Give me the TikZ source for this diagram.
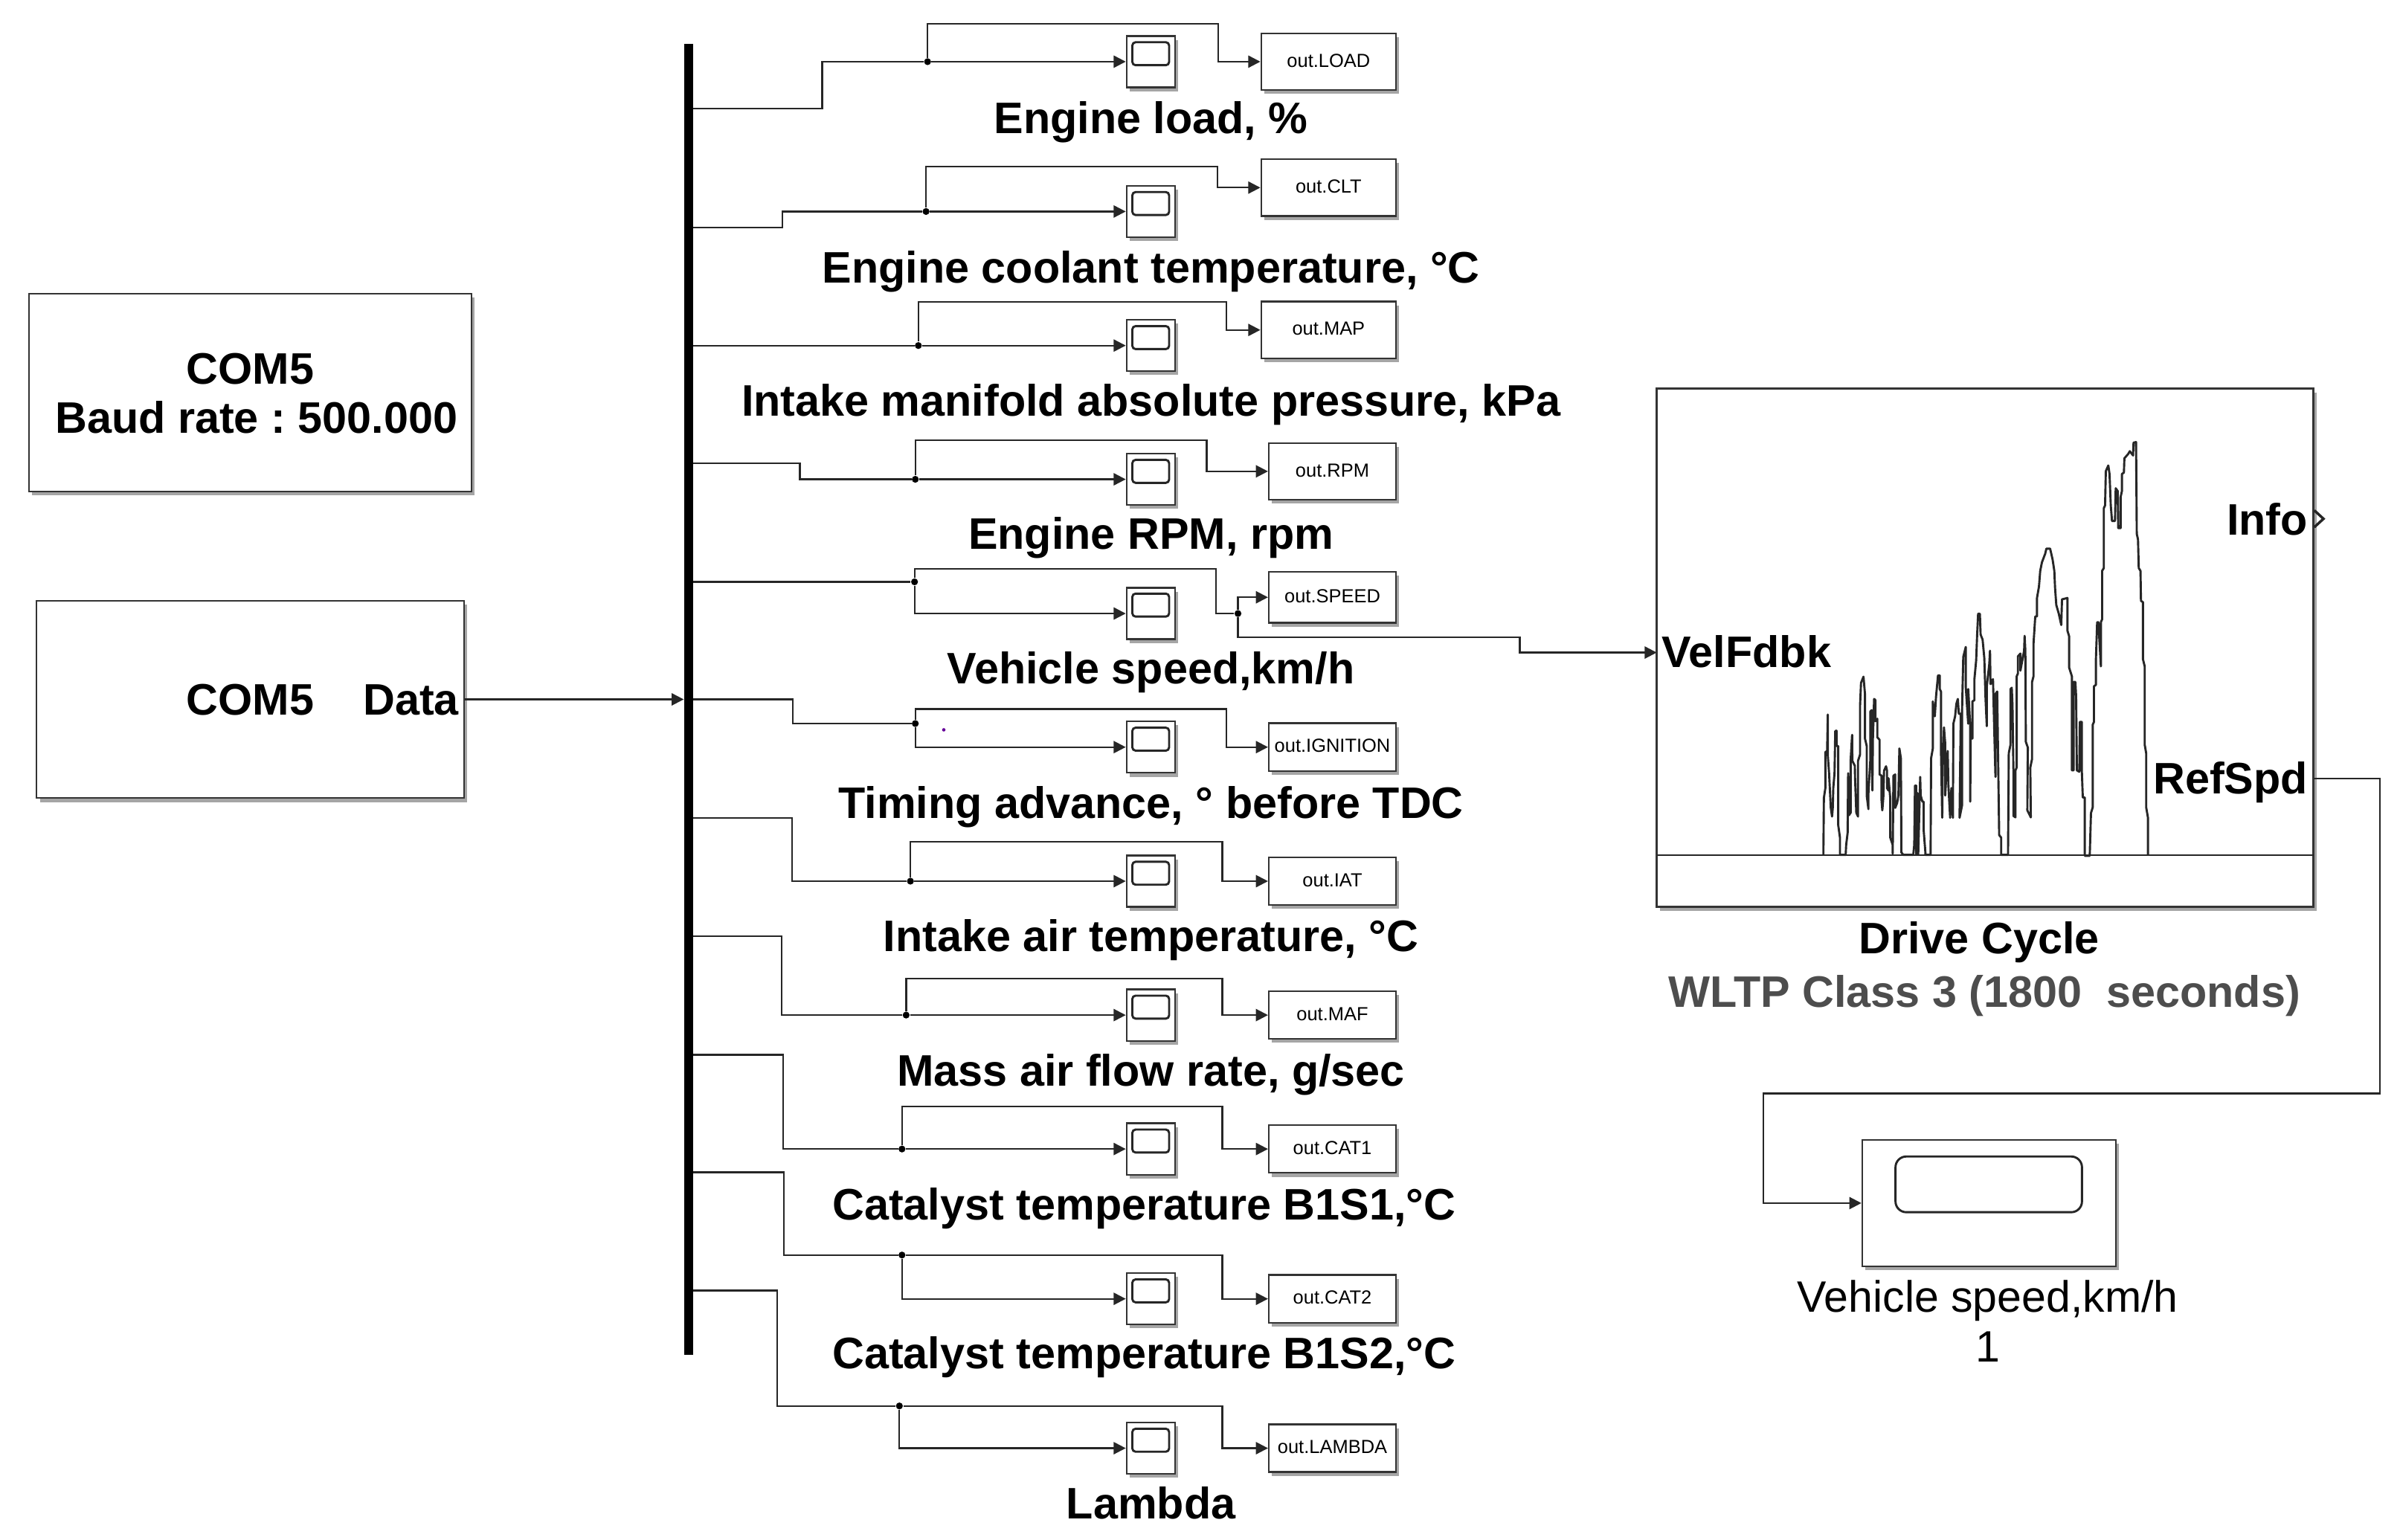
\documentclass[tikz,border=0pt]{standalone}
\usepackage{xcolor}
\usepackage{fontspec}
\setmainfont{Liberation Sans}
\usepackage{tikz}
\usetikzlibrary{arrows.meta,shadows}
\definecolor{lblgray}{HTML}{4D4D4D}
\frenchspacing
\tikzset{
    wire/.style={draw=black!85,line width=.8pt},
    sig/.style={wire,-{Triangle[length=5.6pt,width=5.6pt]}},
    blk/.style={draw=black!80,fill=white,line width=.8pt,inner sep=0pt,drop shadow={shadow xshift=1.5pt,shadow yshift=-1.8pt,opacity=.5,fill=black!70}},
    scp/.style={blk,minimum width=.7875cm,minimum height=.84cm},
    screen/.style={draw=black!85,line width=1pt,rounded corners=1.5pt,inner sep=0pt,minimum width=.6cm,minimum height=.375cm},
    outbox/.style={blk,minimum width=2.075cm,minimum height=.78cm,font=\fontsize{8.8}{10}\selectfont,text height=6.4pt,text depth=1.4pt},
    junct/.style={circle,fill=black,inner sep=0pt,minimum size=.1125cm},
    lbl/.style={font=\fontsize{20.5}{24}\bfseries\selectfont,anchor=base,inner sep=0pt},
    plain/.style={font=\fontsize{20.4}{24}\selectfont,anchor=base,inner sep=0pt},
    trace/.style={draw=black!85,line width=1pt,line join=round}
}
\begin{document}
\begin{tikzpicture}[x=0.025cm,y=-0.025cm]
    \useasboundingbox (0,0) rectangle (1568,1006.3);

    \node[blk,minimum width=7.225cm,minimum height=3.225cm] (baud) at (163.5,256.5) {};
    \node[lbl] (baud1) at (163.5,251) {COM5};
    \node[lbl] (baud2) at (167.5,283) {Baud rate : 500.000};
    \node[blk,minimum width=6.975cm,minimum height=3.225cm] (com) at (163.5,457) {};
    \node[lbl] (com1) at (163.5,467) {COM5};
    \node[lbl] (com2) at (268.5,467) {Data};
    \node[fill=black,inner sep=0pt,minimum width=.15cm,minimum height=21.4cm] (bus) at (450,457) {};
    \draw[sig] (com.east) -- (bus.west);

    \node[scp] (s1) at (751.8,40.3) {};
    \node[screen] (sc1) at (751.8,35.1) {};
    \node[outbox,minimum width=2.2cm,minimum height=.925cm] (o1) at (868,40.3) {out.LOAD};
    \node[lbl] (l1) at (752,87) {Engine load, \%};
    \node[junct] (j1) at (606,40.3) {};
    \coordinate (t1) at (453,71);
    \draw[wire] (t1) -- (537.2,71) |- (j1);
    \draw[sig] (j1) -- (s1.west);
    \draw[sig] (j1) |- (796,15.6) |- (o1.west);

    \node[scp] (s2) at (751.8,138.2) {};
    \node[screen] (sc2) at (751.8,133) {};
    \node[outbox,minimum width=2.2cm,minimum height=.925cm] (o2) at (868,122.6) {out.CLT};
    \node[lbl] (l2) at (752,185) {Engine coolant temperature, °C};
    \node[junct] (j2) at (605,138.2) {};
    \coordinate (t2) at (453,148.8);
    \draw[wire] (t2) -- (511,148.8) |- (j2);
    \draw[sig] (j2) -- (s2.west);
    \draw[sig] (j2) |- (795.3,109) |- (o2.west);

    \node[scp] (s3) at (751.8,225.8) {};
    \node[screen] (sc3) at (751.8,220.6) {};
    \node[outbox,minimum width=2.2cm,minimum height=.925cm] (o3) at (868,215.6) {out.MAP};
    \node[lbl] (l3) at (752,272) {Intake manifold absolute pressure, kPa};
    \node[junct] (j3) at (600,225.8) {};
    \coordinate (t3) at (453,225.8);
    \draw[wire] (t3) -- (j3);
    \draw[sig] (j3) -- (s3.west);
    \draw[sig] (j3) |- (801.4,197.4) |- (o3.west);

    \node[scp] (s4) at (751.8,313.2) {};
    \node[screen] (sc4) at (751.8,308) {};
    \node[outbox,minimum height=.925cm] (o4) at (870.5,308) {out.RPM};
    \node[lbl] (l4) at (752,359) {Engine RPM, rpm};
    \node[junct] (j4) at (598,313.2) {};
    \coordinate (t4) at (453,302.8);
    \draw[wire] (t4) -- (522.6,302.8) |- (j4);
    \draw[sig] (j4) -- (s4.west);
    \draw[sig] (j4) |- (788.4,287.6) |- (o4.west);

    \node[scp] (s5) at (751.8,400.9) {};
    \node[screen] (sc5) at (751.8,395.4) {};
    \node[outbox,minimum height=.83cm] (o5) at (870.5,390.3) {out.SPEED};
    \node[lbl] (l5) at (752,447) {Vehicle speed,km/h};
    \node[junct] (j5) at (597.5,380.2) {};
    \node[junct] (k5) at (808.8,400.9) {};
    \coordinate (t5) at (453,380.2);
    \draw[wire] (t5) -- (j5);
    \draw[sig] (j5) |- (s5.west);
    \draw[wire] (j5) |- (794.5,371.7) |- (k5);
    \draw[sig] (k5) |- (o5.west);

    \node[scp] (s6) at (751.8,488.2) {};
    \node[screen] (sc6) at (751.8,483) {};
    \node[outbox] (o6) at (870.5,488.2) {out.IGNITION};
    \node[lbl] (l6) at (752,534.7) {Timing advance, ° before TDC};
    \node[junct] (j6) at (598,472.8) {};
    \node[circle,fill=blue!60!red,inner sep=0pt,minimum size=1.6pt] (mark6) at (616.6,476.9) {};
    \coordinate (t6) at (453,457);
    \draw[wire] (t6) -- (518,457) |- (j6);
    \draw[sig] (j6) |- (s6.west);
    \draw[sig] (j6) |- (801.3,463.3) |- (o6.west);

    \node[scp] (s7) at (751.8,575.8) {};
    \node[screen] (sc7) at (751.8,570.6) {};
    \node[outbox] (o7) at (870.5,575.8) {out.IAT};
    \node[lbl] (l7) at (752,621.5) {Intake air temperature, °C};
    \node[junct] (j7) at (594.8,575.8) {};
    \coordinate (t7) at (453,534.5);
    \draw[wire] (t7) -- (517.4,534.5) |- (j7);
    \draw[sig] (j7) -- (s7.west);
    \draw[sig] (j7) |- (798.6,550) |- (o7.west);

    \node[scp] (s8) at (751.8,663.3) {};
    \node[screen] (sc8) at (751.8,658.1) {};
    \node[outbox] (o8) at (870.5,663.3) {out.MAF};
    \node[lbl] (l8) at (752,709.6) {Mass air flow rate, g/sec};
    \node[junct] (j8) at (592,663.3) {};
    \coordinate (t8) at (453,611.8);
    \draw[wire] (t8) -- (510.6,611.8) |- (j8);
    \draw[sig] (j8) -- (s8.west);
    \draw[sig] (j8) |- (798.6,639.3) |- (o8.west);

    \node[scp] (s9) at (751.8,750.8) {};
    \node[screen] (sc9) at (751.8,745.6) {};
    \node[outbox] (o9) at (870.5,750.8) {out.CAT1};
    \node[lbl] (l9) at (747.5,797) {Catalyst temperature B1S1,°C};
    \node[junct] (j9) at (589.3,750.8) {};
    \coordinate (t9) at (453,689.3);
    \draw[wire] (t9) -- (511.6,689.3) |- (j9);
    \draw[sig] (j9) -- (s9.west);
    \draw[sig] (j9) |- (798.6,723) |- (o9.west);

    \node[scp] (s10) at (751.8,848.7) {};
    \node[screen] (sc10) at (751.8,843.5) {};
    \node[outbox] (o10) at (870.5,848.7) {out.CAT2};
    \node[lbl] (l10) at (747.5,894.5) {Catalyst temperature B1S2,°C};
    \node[junct] (j10) at (589.3,820.1) {};
    \coordinate (t10) at (453,766);
    \draw[wire] (t10) -- (512,766) |- (j10);
    \draw[sig] (j10) |- (s10.west);
    \draw[sig] (j10) -- (798.6,820.1) |- (o10.west);

    \node[scp] (s11) at (751.8,946.3) {};
    \node[screen] (sc11) at (751.8,941.1) {};
    \node[outbox] (o11) at (870.5,946.3) {out.LAMBDA};
    \node[lbl] (l11) at (752,992.4) {Lambda};
    \node[junct] (j11) at (587.6,918.7) {};
    \coordinate (t11) at (453,843.3);
    \draw[wire] (t11) -- (507.9,843.3) |- (j11);
    \draw[sig] (j11) |- (s11.west);
    \draw[sig] (j11) -- (798.6,918.7) |- (o11.west);

    \node[blk,minimum width=10.725cm,minimum height=8.4625cm] (dc) at (1296.9,423.25) {};
    \coordinate (dcl) at (1082.4,558.7);
    \coordinate (dcr) at (1511.4,558.7);
    \draw[wire] (dcl) -- (dcr);
    \node[lbl,anchor=base west] (vel) at (1085.5,436) {VelFdbk};
    \node[lbl,anchor=base east] (info) at (1508,349.4) {Info};
    \node[lbl,anchor=base east] (ref) at (1508,518.7) {RefSpd};
    \node[lbl] (dc1) at (1293,623.2) {Drive Cycle};
    \node[lbl,text=lblgray] (dc2) at (1296.5,658.3) {WLTP Class 3 (1800~~seconds)};
    \coordinate (velin) at (1082.4,426.4);
    \coordinate (refout) at (1511.4,508.7);
    \draw[sig] (k5) |- (993,416.3) |- (velin);
    \draw[wire,line width=1.2pt] (1512,333.5) -- (1518,339) -- (1512,344.5);

    \begin{scope}[shift={(1175.9,417.9)},x=0.0040492cm,y=-0.0040492cm]
    \draw[trace] plot coordinates {(95,870) (97,640) (103,600) (103,455) (110,450) (113,303) (113,470) (118,540) (125,680) (130,715) (133,680) (135,600) (140,540) (143,370) (148,368) (148,430) (155,430) (155,750) (162,800) (162,870) (185,870) (187,830) (193,780) (195,540) (198,710) (205,700) (205,490) (211,385) (212,490) (222,510) (223,560) (228,700) (235,715) (235,490) (243,465) (243,270) (247,175) (257,150) (263,220) (263,400) (270,430) (270,630) (277,685) (277,620) (285,480) (285,290) (290,285) (293,610) (295,400) (300,240) (305,245) (305,330) (313,320) (313,395) (322,405) (322,545) (330,550) (330,650) (333,690) (337,640) (340,530) (348,512) (352,530) (352,600) (358,610) (358,560) (365,640) (365,800) (375,830) (375,865) (378,550) (385,545) (385,680) (393,660) (398,630) (402,440) (408,480) (410,860) (418,870) (458,870) (462,830) (465,590) (470,590) (470,870) (475,620) (478,870) (486,555) (488,630) (495,655) (500,655) (500,770) (507,860) (507,870) (528,870) (530,480) (537,440) (537,250) (545,310) (550,230) (558,145) (565,145) (565,200) (570,210) (570,450) (575,720) (577,520) (582,355) (587,420) (587,630) (597,450) (600,590) (607,720) (612,600) (618,720) (620,340) (627,310) (632,260) (638,240) (642,300) (650,300) (645,720) (655,670) (655,290) (660,70) (670,30) (670,190) (680,340) (680,200) (688,350) (688,655) (690,400) (697,400) (697,250) (705,245) (705,160) (712,85) (716,-20) (720,-104) (727,-104) (730,-20) (738,0) (745,75) (750,240) (755,350) (755,190) (765,100) (768,45) (770,180) (780,160) (790,555) (790,220) (797,210) (800,430) (805,790) (813,800) (813,870) (842,870)};
    \end{scope}
    \begin{scope}[shift={(1311.9,281.8)},x=0.0040492cm,y=-0.0046486cm]
    \draw[trace] plot coordinates {(0,1490) (3,1130) (10,1100) (10,905) (15,900) (18,960) (22,1200) (22,1350) (30,1355) (30,1190) (35,1180) (35,860) (40,850) (40,790) (50,780) (50,840) (65,770) (67,718) (70,770) (72,1090) (80,1110) (78,1330) (92,1355) (90,1180) (97,1150) (97,880) (103,860) (103,745) (110,650) (117,650) (117,585) (125,545) (130,490) (137,460) (150,430) (155,412) (170,412) (180,450) (187,490) (190,550) (195,610) (205,640) (215,680) (218,590) (240,585) (240,700) (247,720) (247,830) (258,860) (258,1190) (265,1190) (265,880) (272,880) (275,930) (278,1190) (288,1195) (290,1020) (298,1020) (298,1190) (302,1285) (310,1285) (310,1490) (330,1490) (335,1340) (342,1320) (342,1030) (347,1020) (347,895) (355,890) (355,800) (360,670) (365,670) (375,825) (375,670) (380,660) (380,490) (387,480) (387,270) (392,260) (395,140) (405,120) (410,150) (415,260) (420,315) (432,315) (435,200) (443,210) (445,340) (455,340) (455,230) (460,210) (460,150) (468,145) (470,95) (485,80) (492,70) (505,85) (507,40) (517,38) (518,130) (520,360) (525,380) (528,480) (535,490) (537,595) (545,600) (545,800) (552,825) (552,1100) (558,1130) (558,1320) (565,1355) (565,1490)};
    \end{scope}

    \node[blk,minimum width=4.1375cm,minimum height=2.0625cm] (s12) at (1299.45,786.15) {};
    \node[screen,rounded corners=5pt,minimum width=3.045cm,minimum height=.91cm] (sc12) at (1299.3,773.9) {};
    \node[plain] (p1) at (1298.6,857.2) {Vehicle speed,km/h};
    \node[plain] (p2) at (1299,889.8) {1};
    \draw[sig] (refout) -| (1554.8,714.5) -| (1152,786.15) -- (s12.west);
\end{tikzpicture}
\end{document}
